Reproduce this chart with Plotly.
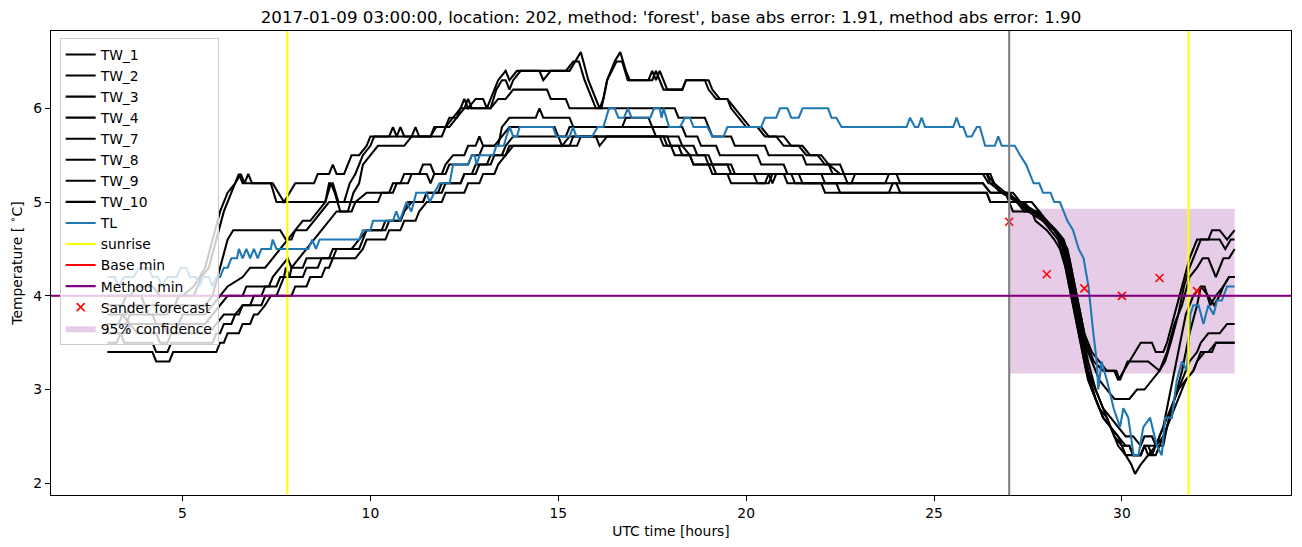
import plotly.graph_objects as go

# ---------------- data (hour, temperature) ----------------
TW_1 = [(3.0,4.0),(3.6,4.0),(3.8,4.1),(4.2,4.1),(4.4,4.0),(5.0,4.0),(5.3,4.1),(5.6,4.3),(5.8,4.6),(6.0,4.9),
        (6.2,5.1),(6.4,5.2),(6.55,5.3),(6.65,5.2),(6.75,5.3),(6.85,5.2),(7.4,5.2),(7.55,5.1),(7.7,5.0),(7.85,5.1),
        (8.0,5.2),(8.5,5.2),(8.6,5.3),(8.9,5.3),(9.0,5.4),(9.1,5.3),(9.3,5.3),(9.5,5.5),(9.7,5.5),(9.9,5.6),
        (10.0,5.7),(10.5,5.7),(10.6,5.8),(10.7,5.7),(11.1,5.7),(11.2,5.8),(11.3,5.7),(11.6,5.7),(11.7,5.8),(12.0,5.8),
        (12.1,5.9),(12.3,5.9),(12.4,6.0),(12.5,6.1),(12.6,6.0),(12.8,6.1),(13.0,6.1),(13.1,6.0),(13.2,6.1),(13.4,6.3),
        (13.6,6.4),(13.7,6.3),(13.9,6.4),(14.5,6.4),(14.6,6.3),(14.8,6.4),(15.3,6.4),(15.45,6.5),(15.6,6.6),(15.8,6.3),
        (16.1,6.0),(16.2,6.1),(16.3,6.3),(16.5,6.5),(16.65,6.6),(16.8,6.4),(16.9,6.3),(17.4,6.3),(17.5,6.4),(17.6,6.3),
        (17.7,6.4),(17.8,6.3),(17.9,6.2),(18.3,6.2),(18.4,6.3),(19.0,6.3),(19.1,6.2),(19.3,6.1),(19.5,6.1),(19.7,6.0),
        (19.9,5.9),(20.1,5.8),(20.4,5.8),(20.6,5.7),(21.0,5.7),(21.2,5.6),(21.5,5.6),(21.7,5.5),(22.0,5.5),(22.2,5.4),
        (22.5,5.3),(26.4,5.3),(26.6,5.2),(26.9,5.1),(27.3,5.0),(27.7,4.9),(28.0,4.8),(28.25,4.7),(28.45,4.6),(28.6,4.4),
        (28.75,4.1),(28.9,3.8),(29.05,3.5),(29.25,3.3),(29.5,3.2),(29.8,3.2),(29.9,3.1),(30.05,3.2),(30.2,3.3),(30.35,3.4),
        (30.5,3.5),(30.8,3.5),(30.9,3.4),(31.1,3.4),(31.2,3.5),(31.4,3.8),(31.6,4.1),(31.8,4.4),(32.0,4.6),(32.3,4.6),
        (32.4,4.7),(32.6,4.7),(32.8,4.6),(33.0,4.7)]

TW_2 = [(3.0,3.8),(3.5,3.8),(3.6,3.9),(4.0,3.9),(4.1,3.8),(4.6,3.8),(4.7,3.9),(5.6,3.9),(5.8,4.0),(6.0,4.3),
        (6.2,4.6),(6.35,4.7),(7.6,4.7),(7.75,4.6),(7.9,4.6),(8.0,4.7),(8.2,4.8),(8.4,4.8),(8.6,4.9),(8.8,5.0),
        (8.95,5.2),(9.05,5.1),(9.2,4.9),(9.4,4.9),(9.55,5.1),(9.7,5.2),(9.8,5.4),(10.0,5.5),(10.2,5.6),(10.9,5.6),
        (11.1,5.7),(11.9,5.7),(12.0,5.8),(12.2,5.9),(12.4,6.0),(13.2,6.0),(13.4,6.1),(13.6,6.1),(13.8,6.2),(14.7,6.2),
        (14.8,6.1),(15.2,6.1),(15.3,6.0),(18.1,6.0),(18.2,5.9),(18.9,5.9),(19.0,5.8),(19.1,5.7),(19.6,5.7),(19.7,5.6),
        (20.5,5.6),(20.6,5.5),(21.5,5.5),(21.6,5.4),(22.2,5.4),(22.3,5.3),(26.3,5.3),(26.45,5.2),(26.6,5.2),(26.75,5.1),
        (27.1,5.1),(27.3,5.0),(27.6,4.9),(28.0,4.8),(28.2,4.7),(28.4,4.6),(28.55,4.4),(28.7,4.1),(28.85,3.8),(29.0,3.5),
        (29.2,3.3),(29.4,3.1),(29.6,3.0),(29.8,2.9),(30.2,2.9),(30.4,3.0),(30.6,3.0),(30.8,3.1),(31.0,3.2),(31.2,3.4),
        (31.4,3.7),(31.6,3.9),(31.8,4.2),(32.0,4.3),(32.15,4.4),(32.3,4.4),(32.5,4.2),(32.7,4.4),(32.85,4.4),(33.0,4.5)]

TW_3 = [(3.0,3.5),(3.25,3.5),(3.35,3.6),(3.45,3.5),(4.2,3.5),(4.3,3.4),(4.6,3.4),(4.7,3.5),(5.8,3.5),(5.9,3.6),
        (6.0,3.6),(6.1,3.7),(6.3,3.7),(6.4,3.8),(6.5,3.8),(6.6,3.9),(6.8,3.9),(6.9,4.0),(7.1,4.0),(7.2,4.1),
        (7.5,4.1),(7.6,4.2),(7.85,4.2),(7.9,4.3),(8.2,4.3),(8.3,4.4),(8.9,4.4),(9.0,4.5),(9.5,4.5),(9.7,4.6),
        (9.9,4.7),(10.4,4.7),(10.5,4.8),(10.8,4.8),(10.9,4.9),(11.1,5.0),(11.4,5.0),(11.5,5.1),(11.9,5.1),(12.0,5.2),
        (12.4,5.2),(12.5,5.3),(12.8,5.3),(12.9,5.4),(13.2,5.4),(13.3,5.5),(13.5,5.5),(13.6,5.6),(13.8,5.7),(15.0,5.7),
        (15.1,5.6),(15.3,5.7),(18.2,5.7),(18.3,5.6),(18.5,5.5),(18.9,5.5),(19.0,5.4),(19.6,5.4),(19.7,5.3),(20.6,5.3),
        (20.7,5.2),(20.8,5.3),(21.4,5.3),(21.5,5.2),(22.0,5.2),(22.1,5.1),(23.8,5.1),(23.9,5.2),(24.0,5.2),(24.1,5.1),
        (26.4,5.1),(26.5,5.0),(27.2,5.0),(27.4,4.9),(27.8,4.9),(27.9,4.8),(28.2,4.7),(28.4,4.6),(28.5,4.5),(28.65,4.2),
        (28.8,3.9),(28.95,3.6),(29.1,3.3),(29.3,3.0),(29.5,2.8),(29.7,2.6),(29.9,2.5),(30.0,2.4),(30.1,2.3),(30.5,2.3),
        (30.6,2.4),(30.7,2.3),(30.9,2.3),(31.0,2.4),(31.2,2.6),(31.4,2.9),(31.6,3.1),(31.8,3.3),(32.0,3.4),(32.1,3.5),
        (32.3,3.6),(32.6,3.6),(32.8,3.7),(33.0,3.7)]

TW_4 = [(3.0,3.9),(3.4,3.9),(3.5,4.0),(3.9,4.0),(4.0,3.9),(4.8,3.9),(4.9,4.0),(5.3,4.0),(5.5,4.2),(5.7,4.3),
        (5.9,4.6),(6.1,4.9),(6.3,5.1),(6.4,5.2),(6.5,5.3),(6.6,5.2),(7.35,5.2),(7.5,5.0),(8.8,5.0),(8.9,5.2),
        (9.0,5.2),(9.15,5.0),(9.3,5.0),(9.45,5.2),(9.6,5.3),(9.8,5.5),(10.0,5.6),(10.1,5.7),(10.7,5.7),(10.8,5.8),
        (10.9,5.7),(11.6,5.7),(11.75,5.8),(12.1,5.8),(12.3,5.9),(12.5,6.0),(12.6,6.1),(12.7,6.0),(13.2,6.0),(13.35,6.2),
        (13.5,6.3),(13.6,6.3),(13.7,6.2),(13.8,6.3),(14.0,6.4),(15.2,6.4),(15.4,6.5),(15.55,6.5),(15.7,6.3),(16.0,6.0),
        (16.15,6.0),(16.3,6.3),(16.55,6.5),(16.7,6.5),(16.85,6.3),(17.5,6.3),(17.6,6.4),(17.7,6.3),(17.8,6.2),(18.3,6.2),
        (18.4,6.3),(18.9,6.3),(19.0,6.2),(19.2,6.1),(19.5,6.1),(19.6,6.0),(19.8,5.9),(20.0,5.8),(20.3,5.8),(20.5,5.7),
        (20.8,5.7),(21.0,5.6),(21.4,5.6),(21.6,5.5),(21.9,5.5),(22.1,5.4),(22.5,5.4),(22.6,5.3),(26.5,5.3),(26.6,5.2),
        (26.8,5.1),(27.2,5.0),(27.5,4.9),(27.9,4.8),(28.2,4.7),(28.4,4.6),(28.55,4.5),(28.7,4.2),(28.85,3.9),(29.0,3.6),
        (29.2,3.4),(29.4,3.3),(29.6,3.2),(29.85,3.2),(29.95,3.1),(30.05,3.2),(30.15,3.3),(30.7,3.3),(31.0,3.2),(31.15,3.3),
        (31.3,3.5),(31.5,3.8),(31.65,4.1),(31.8,4.3),(32.0,4.5),(32.1,4.6),(32.6,4.6),(32.75,4.5),(32.9,4.6),(33.0,4.6)]

TW_7 = [(3.0,3.7),(3.5,3.7),(3.6,3.8),(4.2,3.8),(4.3,3.7),(4.9,3.7),(5.0,3.8),(5.6,3.8),(5.8,3.9),(6.0,4.0),
        (6.2,4.1),(6.6,4.2),(6.8,4.3),(7.2,4.3),(7.4,4.4),(7.6,4.5),(7.8,4.6),(8.0,4.7),(8.3,4.7),(8.5,4.8),
        (8.7,4.9),(8.9,5.0),(9.6,5.0),(9.9,5.1),(10.5,5.1),(10.6,5.2),(10.8,5.2),(10.9,5.3),(11.3,5.3),(11.4,5.4),
        (11.6,5.4),(11.7,5.3),(11.9,5.3),(12.0,5.4),(12.2,5.5),(12.5,5.5),(12.6,5.6),(12.8,5.6),(12.9,5.7),(13.0,5.6),
        (13.4,5.6),(13.5,5.8),(13.7,5.9),(14.4,5.9),(14.5,6.0),(14.6,5.9),(15.3,5.9),(15.4,5.8),(16.7,5.8),(16.8,5.9),
        (17.4,5.9),(17.5,5.8),(18.3,5.8),(18.4,5.7),(18.7,5.7),(18.8,5.6),(19.2,5.6),(19.3,5.5),(20.3,5.5),(20.4,5.4),
        (21.0,5.4),(21.1,5.3),(22.6,5.3),(22.7,5.2),(23.7,5.2),(23.8,5.3),(24.0,5.3),(24.1,5.2),(26.3,5.2),(26.5,5.1),
        (27.0,5.1),(27.2,5.0),(27.6,5.0),(27.8,4.9),(28.0,4.8),(28.2,4.7),(28.4,4.6),(28.5,4.4),(28.65,4.1),(28.8,3.8),
        (28.95,3.5),(29.1,3.2),(29.3,3.0),(29.5,2.8),(29.7,2.7),(29.9,2.6),(30.1,2.5),(30.3,2.5),(30.5,2.4),(30.6,2.5),
        (30.8,2.5),(30.9,2.4),(31.1,2.4),(31.2,2.6),(31.4,2.9),(31.6,3.2),(31.8,3.6),(32.0,3.9),(32.1,4.1),(32.3,4.0),
        (32.45,3.9),(32.6,4.0),(32.7,4.1),(32.85,4.2),(33.0,4.2)]

TW_8 = [(3.0,3.4),(4.2,3.4),(4.3,3.3),(4.65,3.3),(4.75,3.4),(5.9,3.4),(6.0,3.5),(6.1,3.5),(6.2,3.6),(6.5,3.6),
        (6.6,3.7),(6.8,3.7),(6.9,3.8),(7.0,3.8),(7.2,3.9),(7.35,4.0),(7.9,4.0),(8.0,4.1),(8.3,4.1),(8.4,4.2),
        (8.7,4.2),(8.8,4.3),(8.9,4.3),(9.0,4.4),(9.6,4.4),(9.8,4.5),(9.9,4.6),(10.4,4.6),(10.5,4.7),(10.8,4.7),
        (10.9,4.8),(11.2,4.8),(11.3,4.9),(11.5,5.0),(11.9,5.0),(12.0,5.1),(12.5,5.1),(12.6,5.2),(12.9,5.2),(13.0,5.3),
        (13.3,5.3),(13.4,5.4),(13.6,5.5),(13.8,5.6),(15.3,5.6),(15.4,5.7),(17.7,5.7),(17.8,5.6),(18.6,5.6),(18.7,5.5),
        (19.0,5.5),(19.1,5.4),(19.5,5.4),(19.6,5.3),(20.2,5.3),(20.3,5.2),(20.6,5.2),(20.7,5.3),(22.0,5.3),(22.1,5.2),
        (26.3,5.2),(26.5,5.1),(26.9,5.1),(27.0,5.0),(27.4,5.0),(27.6,4.9),(28.0,4.8),(28.2,4.7),(28.35,4.6),(28.5,4.4),
        (28.65,4.1),(28.8,3.8),(28.95,3.5),(29.1,3.2),(29.3,2.9),(29.5,2.7),(29.7,2.6),(29.9,2.5),(30.1,2.4),(30.2,2.4),
        (30.3,2.3),(30.5,2.3),(30.6,2.4),(30.9,2.4),(31.0,2.5),(31.2,2.7),(31.4,2.9),(31.5,3.0),(31.7,3.1),(31.9,3.2),
        (32.0,3.3),(32.2,3.4),(32.4,3.4),(32.5,3.5),(33.0,3.5)]

TW_9 = [(3.0,3.7),(3.3,3.7),(3.4,3.8),(3.6,3.7),(4.5,3.7),(4.6,3.6),(4.8,3.6),(4.9,3.7),(5.6,3.7),(5.8,3.8),
        (6.0,3.9),(6.2,4.0),(6.6,4.0),(6.7,4.1),(7.3,4.1),(7.4,4.2),(7.6,4.3),(7.8,4.4),(7.9,4.3),(8.1,4.4),
        (8.3,4.5),(8.5,4.6),(8.7,4.7),(8.9,4.8),(9.1,4.9),(9.5,4.9),(9.6,5.0),(10.2,5.0),(10.3,5.1),(10.6,5.1),
        (10.7,5.2),(11.0,5.2),(11.1,5.3),(11.5,5.3),(11.6,5.2),(11.7,5.3),(12.0,5.3),(12.1,5.4),(12.6,5.4),(12.7,5.5),
        (12.9,5.5),(13.0,5.6),(13.3,5.6),(13.5,5.7),(13.7,5.8),(14.9,5.8),(15.0,5.7),(15.2,5.7),(15.3,5.8),(17.5,5.8),
        (17.6,5.7),(17.9,5.7),(18.0,5.6),(18.2,5.6),(18.3,5.5),(18.5,5.5),(18.6,5.4),(19.0,5.4),(19.1,5.3),(21.2,5.3),
        (21.3,5.2),(22.8,5.2),(22.9,5.3),(26.4,5.3),(26.5,5.2),(26.8,5.1),(27.3,5.0),(27.5,4.9),(27.8,4.9),(27.9,4.8),
        (28.1,4.7),(28.3,4.6),(28.45,4.4),(28.6,4.1),(28.75,3.8),(28.9,3.5),(29.05,3.2),(29.2,3.0),(29.4,2.8),(29.6,2.7),
        (29.8,2.5),(30.0,2.4),(30.2,2.4),(30.3,2.3),(30.5,2.3),(30.6,2.4),(30.7,2.4),(30.8,2.3),(30.9,2.4),(31.1,2.6),
        (31.3,3.0),(31.5,3.4),(31.7,3.8),(31.9,4.0),(32.1,4.1),(32.2,4.1),(32.35,3.9),(32.5,4.0),(32.7,4.1),(32.85,4.2),
        (33.0,4.2)]

TW_10 = [(3.0,3.6),(3.5,3.6),(3.6,3.7),(3.8,3.6),(4.3,3.6),(4.4,3.5),(4.6,3.5),(4.7,3.6),(5.7,3.6),(5.9,3.7),
         (6.1,3.8),(6.4,3.8),(6.6,3.9),(7.1,3.9),(7.2,4.0),(7.5,4.0),(7.6,4.1),(7.7,4.2),(7.75,4.3),(7.85,4.2),
         (8.2,4.2),(8.3,4.3),(8.6,4.3),(8.7,4.4),(9.0,4.4),(9.1,4.5),(9.7,4.5),(9.8,4.6),(9.9,4.7),(10.3,4.7),
         (10.4,4.8),(10.8,4.8),(10.9,4.9),(11.0,5.0),(11.4,5.0),(11.5,5.1),(11.8,5.1),(11.9,5.2),(12.4,5.2),(12.5,5.3),
         (12.7,5.3),(12.8,5.4),(13.1,5.4),(13.2,5.5),(13.6,5.5),(13.7,5.6),(15.5,5.6),(15.6,5.7),(16.0,5.7),(16.1,5.6),
         (16.3,5.7),(17.8,5.7),(17.9,5.6),(18.0,5.6),(18.1,5.5),(18.5,5.5),(18.6,5.4),(19.1,5.4),(19.2,5.3),(19.5,5.3),
         (19.6,5.2),(20.5,5.2),(20.6,5.3),(21.0,5.3),(21.1,5.2),(22.4,5.2),(22.5,5.1),(26.4,5.1),(26.5,5.0),(27.0,5.0),
         (27.1,4.9),(27.6,4.9),(27.7,4.8),(28.0,4.7),(28.2,4.6),(28.35,4.5),(28.5,4.3),(28.65,4.0),(28.8,3.7),(28.95,3.4),
         (29.1,3.1),(29.3,2.9),(29.5,2.7),(29.7,2.6),(29.9,2.4),(30.1,2.3),(30.25,2.2),(30.35,2.1),(30.5,2.2),(30.7,2.3),
         (30.9,2.4),(31.1,2.5),(31.3,2.7),(31.5,2.9),(31.7,3.1),(31.9,3.2),(32.1,3.4),(32.3,3.4),(32.5,3.5),(33.0,3.5)]

TL = [(3.0,4.2),(3.2,4.2),(3.3,4.1),(3.45,4.2),(3.7,4.2),(3.85,4.3),(4.1,4.3),(4.2,4.2),(4.35,4.2),(4.45,4.1),
      (4.6,4.2),(4.85,4.2),(4.95,4.3),(5.1,4.3),(5.2,4.2),(5.35,4.2),(5.45,4.1),(5.55,4.2),(5.7,4.2),(5.8,4.1),
      (5.9,4.2),(6.0,4.2),(6.1,4.3),(6.2,4.3),(6.3,4.4),(6.45,4.4),(6.5,4.5),(6.6,4.4),(6.7,4.5),(6.8,4.4),
      (6.9,4.5),(7.0,4.4),(7.1,4.5),(7.35,4.5),(7.4,4.6),(7.5,4.5),(8.35,4.5),(8.45,4.6),(8.55,4.5),(8.65,4.6),
      (9.7,4.6),(9.8,4.7),(10.0,4.7),(10.07,4.8),(10.6,4.8),(10.69,4.9),(10.78,4.8),(10.96,5.0),(11.09,4.9),(11.22,5.1),
      (11.49,5.1),(11.58,5.0),(11.7,5.1),(11.84,5.2),(12.11,5.2),(12.2,5.4),(12.6,5.4),(12.7,5.5),(12.78,5.5),(12.82,5.4),
      (12.91,5.5),(13.27,5.5),(13.35,5.6),(13.55,5.6),(13.62,5.7),(13.71,5.8),(13.8,5.7),(13.9,5.7),(13.97,5.8),(14.86,5.8),
      (14.95,5.7),(15.3,5.7),(15.39,5.8),(15.48,5.7),(15.9,5.7),(16.05,5.8),(16.2,5.8),(16.35,6.0),(16.5,6.0),(16.6,5.9),
      (16.75,5.9),(16.85,6.0),(16.95,5.9),(17.45,5.9),(17.55,6.0),(17.7,6.0),(17.75,5.9),(17.8,6.0),(17.95,5.8),(18.24,5.8),
      (18.37,5.9),(18.5,5.9),(18.6,5.8),(18.97,5.8),(19.1,5.7),(19.4,5.7),(19.5,5.8),(20.4,5.8),(20.5,5.9),(20.8,5.9),
      (20.9,6.0),(21.1,6.0),(21.2,5.9),(21.4,5.9),(21.5,6.0),(22.18,6.0),(22.27,5.9),(22.4,5.9),(22.54,5.8),(24.27,5.8),
      (24.36,5.9),(24.49,5.8),(24.58,5.8),(24.67,5.9),(24.76,5.8),(25.51,5.8),(25.6,5.9),(25.69,5.8),(25.78,5.8),(25.87,5.7),
      (26.0,5.7),(26.14,5.8),(26.22,5.8),(26.36,5.6),(26.62,5.6),(26.71,5.7),(26.8,5.6),(27.15,5.6),(27.29,5.5),(27.45,5.4),
      (27.55,5.3),(27.65,5.2),(27.8,5.2),(27.9,5.1),(28.1,5.1),(28.2,5.0),(28.35,5.0),(28.45,4.9),(28.55,4.8),(28.7,4.7),
      (28.85,4.5),(28.98,4.4),(29.11,4.1),(29.24,3.6),(29.33,3.3),(29.37,3.0),(29.46,3.3),(29.6,3.1),(29.78,2.8),(29.95,2.6),
      (30.04,2.8),(30.17,2.7),(30.31,2.3),(30.44,2.3),(30.57,2.6),(30.75,2.7),(30.93,2.4),(31.06,2.3),(31.15,2.7),(31.33,2.7),
      (31.46,3.1),(31.6,3.3),(31.73,3.2),(31.82,3.8),(31.9,3.9),(32.04,3.9),(32.17,3.7),(32.3,3.9),(32.44,3.8),(32.53,3.95),
      (32.66,3.95),(32.8,4.1),(33.0,4.1)]

tw_names = ["TW_1", "TW_2", "TW_3", "TW_4", "TW_7", "TW_8", "TW_9", "TW_10"]
tw_series = [TW_1, TW_2, TW_3, TW_4, TW_7, TW_8, TW_9, TW_10]

sunrise_hours = [7.79, 31.77]
forecast_start = 27.0
base_min = 4.0
method_min = 4.0
forecast_hours = [27, 28, 29, 30, 31, 32]
forecast_temps = [4.79, 4.23, 4.08, 4.00, 4.19, 4.05]
conf_low = 3.17
conf_high = 4.93
conf_end = 33.0

title_text = ("2017-01-09 03:00:00, location: 202, method: 'forest', "
              "base abs error: 1.91, method abs error: 1.90")

# ---------------- figure ----------------
FONT = "DejaVu Sans"
LW = 2.08

fig = go.Figure()

# confidence band (drawn first so lines are above it)
fig.add_trace(go.Scatter(
    x=[forecast_start, conf_end, conf_end, forecast_start, forecast_start],
    y=[conf_low, conf_low, conf_high, conf_high, conf_low],
    mode="lines", fill="toself", fillcolor="rgba(128,0,128,0.2)",
    line=dict(width=0, color="rgba(128,0,128,0)"),
    name="95% confidence", legendrank=14, hoverinfo="skip"))

for i, (nm, s) in enumerate(zip(tw_names, tw_series)):
    fig.add_trace(go.Scatter(
        x=[p[0] for p in s], y=[p[1] for p in s], mode="lines",
        line=dict(color="black", width=LW), name=nm, legendrank=i + 1))

fig.add_trace(go.Scatter(
    x=[p[0] for p in TL], y=[p[1] for p in TL], mode="lines",
    line=dict(color="#1f77b4", width=LW), name="TL", legendrank=9))

# legend-only entries for the reference lines
for nm, col, rk in [("sunrise", "#ffff00", 10), ("Base min", "#ff0000", 11), ("Method min", "#800080", 12)]:
    fig.add_trace(go.Scatter(x=[None], y=[None], mode="lines",
                             line=dict(color=col, width=LW), name=nm, legendrank=rk))

fig.add_trace(go.Scatter(
    x=forecast_hours, y=forecast_temps, mode="markers",
    marker=dict(symbol="x-thin", size=8, color="red", line=dict(color="red", width=1.6)),
    name="Sander forecast", legendrank=13))

# vertical / horizontal reference lines
for h in sunrise_hours:
    fig.add_vline(x=h, line=dict(color="#ffff00", width=LW))
fig.add_vline(x=forecast_start, line=dict(color="#808080", width=LW))
fig.add_hline(y=base_min, line=dict(color="#ff0000", width=1))
fig.add_hline(y=method_min, line=dict(color="#800080", width=LW))

# axis ranges with 5% margins like matplotlib
all_x = [p[0] for s in tw_series + [TL] for p in s]
all_y = [p[1] for s in tw_series + [TL] for p in s]
xmin, xmax = min(all_x), max(all_x)
ymin, ymax = min(all_y), max(all_y)
xr = [xmin - 0.05 * (xmax - xmin), xmax + 0.05 * (xmax - xmin)]
yr = [ymin - 0.05 * (ymax - ymin), ymax + 0.05 * (ymax - ymin)]

axis_common = dict(showline=True, mirror=True, linecolor="black", linewidth=1.1,
                   ticks="outside", ticklen=5, tickwidth=1.1, tickcolor="black",
                   showgrid=False, zeroline=False,
                   tickfont=dict(family=FONT, size=13.89, color="black"))

fig.update_layout(
    width=1302, height=547,
    margin=dict(l=51, r=11, t=31, b=52),
    paper_bgcolor="white", plot_bgcolor="white",
    font=dict(family=FONT, size=13.89, color="black"),
    title=dict(text=title_text, x=0.5, xref="paper", xanchor="center",
               y=1 - 17 / 547, yref="container", yanchor="middle",
               font=dict(family=FONT, size=16.67, color="black")),
    xaxis=dict(range=xr, tickvals=[5, 10, 15, 20, 25, 30],
               title=dict(text="UTC time [hours]", standoff=6,
                          font=dict(family=FONT, size=13.89, color="black")),
               **axis_common),
    yaxis=dict(range=yr, tickvals=[2, 3, 4, 5, 6],
               title=dict(text="Temperature [ <sup>∘</sup>C]", standoff=7,
                          font=dict(family=FONT, size=13.89, color="black")),
               **axis_common),
    legend=dict(x=0.007, y=0.985, xanchor="left", yanchor="top",
                bgcolor="rgba(255,255,255,0.8)", bordercolor="#cccccc", borderwidth=1,
                font=dict(family=FONT, size=13.89, color="black"),
                tracegroupgap=0, itemwidth=30),
    showlegend=True,
)

fig.write_html("out.html")
